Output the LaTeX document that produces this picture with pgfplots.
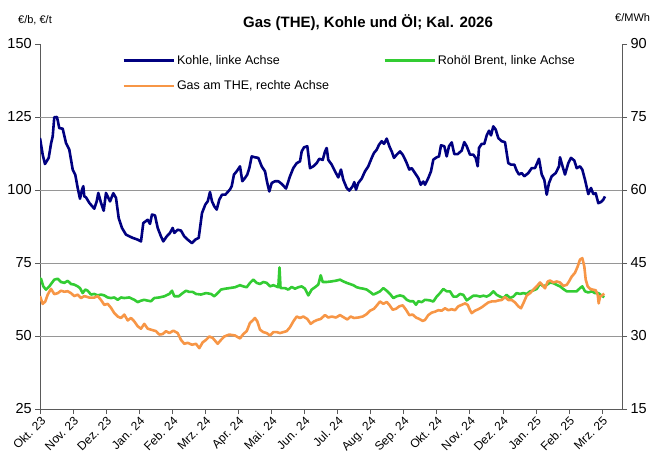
\documentclass[border=0pt]{standalone}
\usepackage{fontspec}
\setmainfont{Liberation Sans}
\usepackage{pgfplots}
\usepackage{pgfplotstable}
\pgfplotsset{compat=1.18}
\definecolor{kohle}{RGB}{0,0,128}
\definecolor{brent}{RGB}{51,204,51}
\definecolor{gas}{RGB}{247,150,70}
\definecolor{gridgray}{RGB}{150,150,150}
\definecolor{axisgray}{RGB}{90,90,90}

% x = position on the time axis (month ticks every 33.05 units from 40.2 = Okt. 23)
\pgfplotstableread{
x v
40 117.8
42.7 112.1
45 108.9
48.7 111
51 115.8
52.7 118.4
54.3 124.9
57 125
59.3 121.2
62.7 121
66 116.1
69.3 113.8
72.7 107
75.3 105.2
77.7 100.7
80 97
82 100.1
83.3 101.3
84.3 97.8
86 97.5
89.3 95.6
94.3 93.6
96.7 96.1
98.3 99
101 95.6
103.7 92.9
106 99
107.7 97.8
110 96.1
113.3 98.9
116 97.3
118.7 90.4
122 87
126 84.7
132.7 83.6
137.7 83
141 82.4
143.3 88.7
147.7 89.8
150 88.4
152 91.6
155 91.3
157.7 87
161 84.1
163.3 82.4
166.7 84.1
170 85.3
172.7 87
174.3 85.3
177.7 86.4
181 86.1
184.3 84.1
187.7 83
192 81.8
195.3 83
198.7 83.6
202 92.1
205.3 95
207.7 96.1
210 99.3
212 96.1
214.3 94.4
216.7 93.3
219.3 96.7
222 98.4
225.3 98.4
227.7 99.3
230 100.2
231.7 101.3
234 105.3
236.7 106.4
240 108.1
242.3 103
245 104.1
247.3 105.3
249.3 107.5
251.7 111.5
255 111.2
258.3 111
261.7 108.1
265 106.4
267.3 102.4
269.3 99.5
271.7 102.4
275 103
278.3 103
281.7 102.1
286 100.5
290 104.7
293.3 107.5
296.7 109.2
300 109.8
301.7 113.2
304 114.6
307.3 115
310 107.5
313.3 108.1
316.7 109.2
319.3 110.7
322.7 110.3
325 113.2
326.7 114.4
328.3 110.3
331.7 108.7
335 106.4
338.3 104.3
341 107
343.3 103.5
346.7 100.7
349.3 99.8
352.7 101.3
354.3 102.7
356 100.1
358.3 102.4
361.7 103.9
365 106.4
368.3 108.1
371.7 111
374 112.7
376.7 113.8
379 115.5
381.7 116.7
384 115.8
386.7 117.6
389.3 115
391.7 113.2
394 111
396.7 112.1
400 113.2
402.7 112.1
406 109.8
409.3 107
411.7 107.5
415 105.8
418.3 104.1
420.7 101.8
423.3 102.9
425 101.8
428.3 104.1
431 106.4
433.3 110.4
436.7 111.2
439 111.5
441 115.3
444.3 115
446.7 111.5
449 115
451.7 116.3
454.3 112.3
457.7 112.3
461.7 113.5
464.3 116.4
466.7 115
470 112.1
473.3 112.1
475.7 111
477.7 108.1
479 114.4
481.7 115.8
484.3 115.8
486.7 118.7
489 120.3
491 118.7
493.3 121.8
495.7 120.7
498.3 117.8
501.7 116.7
505 116.4
508.3 109.2
511 108.7
514.3 108.7
516.7 106.6
519 105.3
521.7 105.8
524.3 104.7
528.3 105.8
531.7 107.5
535 107.5
539 110.7
541.7 105.3
544.3 103.5
546.7 98.4
549 102.4
551.7 104.7
555.7 105.8
559 108.1
560 111.2
562.3 108.4
565 105.3
568.3 109.2
571 111
574.3 110.1
576.7 107.5
580 108.1
582.3 107
585 103.5
588.3 98.6
591 100.7
593.3 98.6
595.7 98.9
598.3 95.5
601 95.9
603.3 96.7
605 97.8
}\kohletable

\pgfplotstableread{
x v
40 69.6
41 69.6
43.3 67
46 65.9
49.3 67
54.3 69.3
57.7 69.6
61 68.5
64.3 68.2
67.7 68.9
71 67.8
74.3 67.6
77.7 67
80 66.4
82.7 64.7
85.3 65.9
87.7 65.5
91 64.2
94.3 64.4
97.7 63.9
101 64.2
104.3 63.9
107.7 63.2
111 63
114.3 63.2
117.7 62.4
121 63.2
124.3 63
129.3 63.2
134.3 62.4
137.7 61.6
141 62.1
144.3 62.4
147.7 62.1
151 61.9
154.3 63
159.3 63.2
164.3 63.6
169.3 64.4
172 65.5
174.3 63.6
178.7 63.6
182.7 64.7
186 65.5
189.3 65.1
192.7 65.1
196 64.4
201 64.2
206 64.7
211 64.4
214.3 63.6
217.7 64.7
221 65.9
225.3 66.2
229.3 66.4
235 66.7
240 67.4
243.3 67
246.7 66.7
250 68.2
253.3 69.3
256.7 68.2
260 67.8
263.3 68.5
266.7 68.2
270 67
273.3 67.4
278.3 66.7
279.5 73.5
280.5 66.6
281 66.4
285 66.4
288.3 65.9
291.7 66.8
295 66.2
298.3 66.7
301.7 67
305 66.2
308.3 63.9
311.7 65.9
315 66.7
318.3 67.6
320.7 70.8
322.7 68.5
326.7 68.5
331.7 68.7
336.7 69
340 69.3
343.3 68.7
346.7 68.2
350 67.8
353.3 67.4
356.7 66.7
360 66.4
363.3 66.2
366.7 65.9
370 65.1
373.3 64.2
376.7 64.7
380 65.3
383.3 66.4
386.7 65.5
390 64.4
393.3 63
396.7 63.6
400 63.9
403.3 63.6
406.7 62.4
410 61.9
413.3 61.9
416 60.7
418.3 61.9
421.7 61.6
425 62.4
430 62.2
433.3 61.8
436.7 63.5
440 64.7
443.3 66.1
446.7 65.3
450 65.3
453.3 63.5
456.7 63.5
460 64.4
463.3 64.1
466.7 62.2
470 63
473.3 63.8
476.7 63.8
480 63.5
483.3 63.8
486.7 63.5
490 64.1
493.3 65.3
496.7 64.1
500 63.5
503.3 63
506.7 64.1
510 63
513.3 63.5
516.7 64.7
520 64.4
523.3 64.7
526.7 64.4
530 65.3
533.3 65.6
536.7 66.1
540 67.9
543.3 67
546.7 67.5
550 68.3
553.3 68.1
556.7 67.5
560 67
563.3 66.1
566.7 65.3
570 65.3
573.3 65.3
576.7 65.3
580 66.4
582.3 67
585 65.3
588.3 64.9
591.7 65.3
595 64.7
598.3 64.7
601.7 63.8
604.3 63.3
}\brenttable

% Gas in EUR/MWh (right axis)
\pgfplotstableread{
x v
40 38.2
42.7 36.6
45.3 37.1
47.7 38.5
51 39.7
54.3 38.6
57.7 38.8
61 39.3
64.3 39.1
67.7 39.2
71 38.8
74.3 38.2
77.7 38.5
81 37.8
84.3 38.2
89.3 37.9
94.3 37.9
97.7 38.2
101 37.4
104.3 36.4
107.7 36.6
111 35.8
114.3 34.7
117.7 34.0
121 33.7
124.3 34.4
127.7 33.2
131 33.7
134.3 33.0
137.7 32.0
141 31.5
144.3 32.5
147.7 31.5
151 31.3
156 31.0
159.3 30.3
162.7 30.4
166 31.0
169.3 30.6
173.3 31.1
177.7 30.6
181 29.2
184.3 28.4
187.7 28.6
192 28.2
196 28.4
199.3 27.5
202.7 28.7
206 29.2
209.3 29.9
212.7 29.6
217.7 28.4
221 29.2
224.3 29.9
229.3 30.3
235 30.1
240 29.5
243.3 30.4
246.7 31.0
250 32.7
252.7 33.2
255 33.7
257.3 33.0
260 31.3
263.3 30.8
266.7 30.6
270 30.1
273.3 30.8
276.7 30.8
280 30.6
283.3 30.8
286.7 31.0
290 31.8
293.3 33.0
296.7 34.0
300 33.7
303.3 34.0
307.3 33.5
310.7 32.5
314 33.0
317.3 33.3
320.7 33.5
325 34.3
328.3 33.8
331.7 34.0
336 33.8
340 34.3
344 33.8
347.3 33.4
350.7 34.0
354 33.7
358.3 33.8
362.7 34.0
366.7 34.5
370 35.2
374 35.6
377.3 36.4
380 37.1
383.3 36.6
386.7 37.0
389.3 36.4
392.7 35.4
396 35.6
399.3 36.1
402.7 36.3
406 35.4
409.3 34.3
412.7 34.4
416 33.8
419.3 33.5
422.7 33.1
425 33.3
428.3 34.3
431.7 34.8
435 35.0
438.3 35.3
441.7 35.2
445 35.7
448.3 35.3
451.7 35.5
455 35.3
458.3 36.1
461.7 36.4
465 36.7
467.7 36.4
470 35.3
471.7 34.7
475 35.2
478.3 35.5
481.7 35.9
485 36.4
488.3 36.9
491.7 37.1
495 37.1
498.3 37.3
501.7 37.4
505 38.0
508.3 37.4
511.7 37.4
515 36.9
518.3 36.1
521 35.7
523.3 36.7
526.7 38.3
530 38.8
533.3 39.5
536.7 40.2
540 41.0
542.3 40.5
545 39.8
547.7 41.2
550 41.4
553.3 41.0
556.7 41.2
560 41.0
563.3 40.3
566.7 40.5
569 41.2
571.7 42.2
575 43.0
577.7 44.3
580 45.7
582.3 46.0
584.3 44.3
585.7 41.6
587.7 40.2
590 39.7
593.3 39.5
595.7 39.4
597.7 38.5
598.7 36.7
600 38.1
601.7 38.3
604.3 38.7
}\gastable

\begin{document}
\begin{tikzpicture}
\useasboundingbox (-40.2pt,-50pt) rectangle (610.8pt,409pt);
\pgfplotsset{
  base/.style={
    width=581.8pt, height=365pt, scale only axis,
    at={(0pt,0pt)}, anchor=south west,
    xmin=40.2, xmax=622,
    tick align=outside, major tick length=5pt,
    /pgf/number format/assume math mode=true,
    tick style={axisgray, line width=0.8pt},
    axis line style={axisgray, line width=1pt},
    y tick label style={font=\fontsize{14.5}{16}\selectfont},
    every axis plot/.append style={line width=2.6pt, line join=round},
  }
}
\begin{axis}[base,
  ymin=25, ymax=150, ytick={25,50,...,150},
  axis y line*=left, axis x line*=bottom,
  xtick={40.2,73.25,106.3,139.35,172.4,205.45,238.5,271.55,304.6,337.65,370.7,403.75,436.8,469.85,502.9,535.95,569,602.05},
  xticklabels={Okt. 23,Nov. 23,Dez. 23,Jan. 24,Feb. 24,Mrz. 24,Apr. 24,Mai. 24,Jun. 24,Jul. 24,Aug. 24,Sep. 24,Okt. 24,Nov. 24,Dez. 24,Jan. 25,Feb. 25,Mrz. 25},
  x tick label style={rotate=45, anchor=north east, font=\fontsize{12}{13}\selectfont, inner sep=1pt},
  extra y ticks={50,75,100,125}, extra y tick labels={},
  extra y tick style={grid=major, major tick length=0pt},
  major grid style={gridgray, line width=0.8pt},
  legend columns=2,
  legend style={at={(79pt,358pt)}, anchor=north west, draw=none, fill=none,
    font=\fontsize{12.5}{14}\selectfont, row sep=11pt,
    /tikz/every even column/.append style={column sep=52pt}},
  legend cell align=left,
  legend image code/.code={\draw[#1, line width=2.8pt] (0pt,0pt) -- (50pt,0pt);},
]
\addplot[kohle, no markers] table[x=x,y=v] {\kohletable};
\addlegendentry{Kohle, linke Achse}
\addplot[brent, no markers] table[x=x,y=v] {\brenttable};
\addlegendentry{Rohöl Brent, linke Achse}
\addlegendimage{gas, line width=2.8pt}
\addlegendentry{Gas am THE, rechte Achse}
\end{axis}
\begin{axis}[base,
  ymin=15, ymax=90, ytick={15,30,...,90},
  axis y line*=right, axis x line=none,
]
\addplot[gas, no markers] table[x=x,y=v] {\gastable};
\end{axis}
\node[font=\bfseries\fontsize{15}{17}\selectfont] at (327.8pt,386pt) {Gas (THE), Kohle und Öl; Kal. 2026};
\node[font=\fontsize{11}{12}\selectfont, anchor=west, inner sep=0pt] at (-22.2pt,389pt) {€/b, €/t};
\node[font=\fontsize{11}{12}\selectfont, anchor=east, inner sep=0pt] at (610pt,391pt) {€/MWh};
\end{tikzpicture}
\end{document}
